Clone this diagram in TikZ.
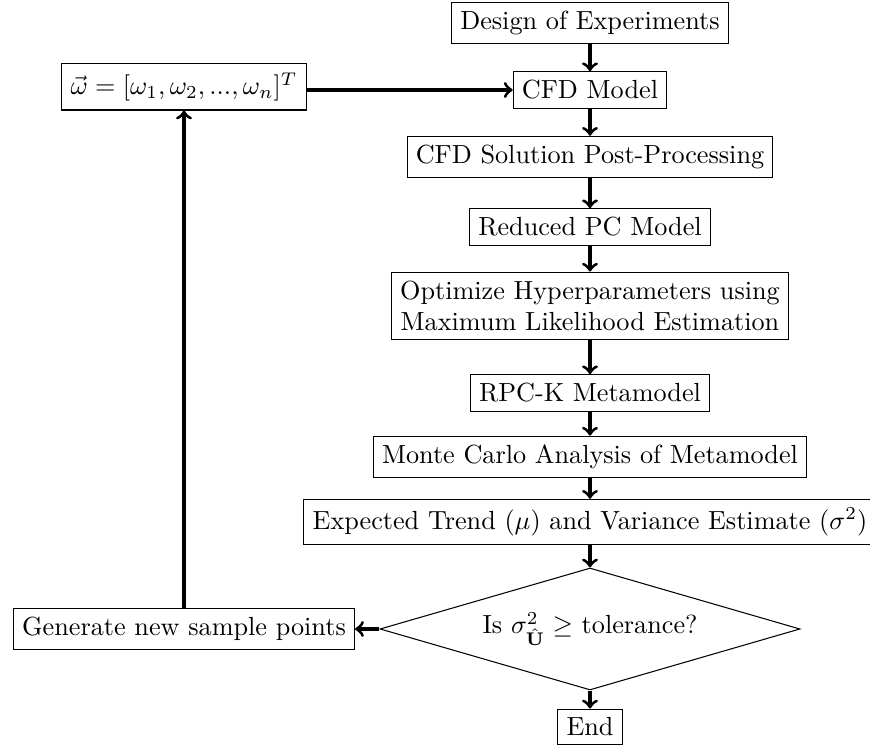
\documentclass[tikz,border=0pt]{standalone}
\usepackage{amsmath,amssymb}
\usetikzlibrary{shapes.geometric}
\begin{document}
\begin{tikzpicture}[x=0.3817pt,y=-0.3817pt,
  box/.style={draw,rectangle,align=center},
  dec/.style={draw,diamond,aspect=3.4,inner sep=0pt,minimum width=420*0.3817pt,minimum height=122*0.3817pt},
  arr/.style={->,very thick}]
\useasboundingbox (0,0) rectangle (870,748);
\node[box] (doe) at (590,23) {Design of Experiments};
\node[box] (cfd) at (590,90) {CFD Model};
\node[box] (w) at (184,87) {$\vec{\omega}=[\omega_1,\omega_2,...,\omega_n]^T$};
\node[box] (post) at (590,157) {CFD Solution Post-Processing};
\node[box] (red) at (590,227) {Reduced PC Model};
\node[box] (opt) at (590,306) {Optimize Hyperparameters using\\Maximum Likelihood Estimation};
\node[box] (rpck) at (590,393) {RPC-K Metamodel};
\node[box] (mc) at (590,457) {Monte Carlo Analysis of Metamodel};
\node[box] (exp) at (590,522) {Expected Trend ($\mu$) and Variance Estimate ($\sigma^2$)};
\node[dec] (dia) at (590,629) {Is $\sigma^2_{\hat{\mathbf{U}}}\geq$ tolerance?};
\node[box] (gen) at (184,629) {Generate new sample points};
\node[box] (end) at (590,727) {End};
\draw[arr] (doe) -- (cfd);
\draw[arr] (cfd) -- (post);
\draw[arr] (post) -- (red);
\draw[arr] (red) -- (opt);
\draw[arr] (opt) -- (rpck);
\draw[arr] (rpck) -- (mc);
\draw[arr] (mc) -- (exp);
\draw[arr] (exp) -- (dia);
\draw[arr] (dia) -- (end);
\draw[arr] (dia) -- (gen);
\draw[arr] (gen) -- (w);
\draw[arr] (w.east |- cfd.west) -- (cfd.west);
\end{tikzpicture}
\end{document}
